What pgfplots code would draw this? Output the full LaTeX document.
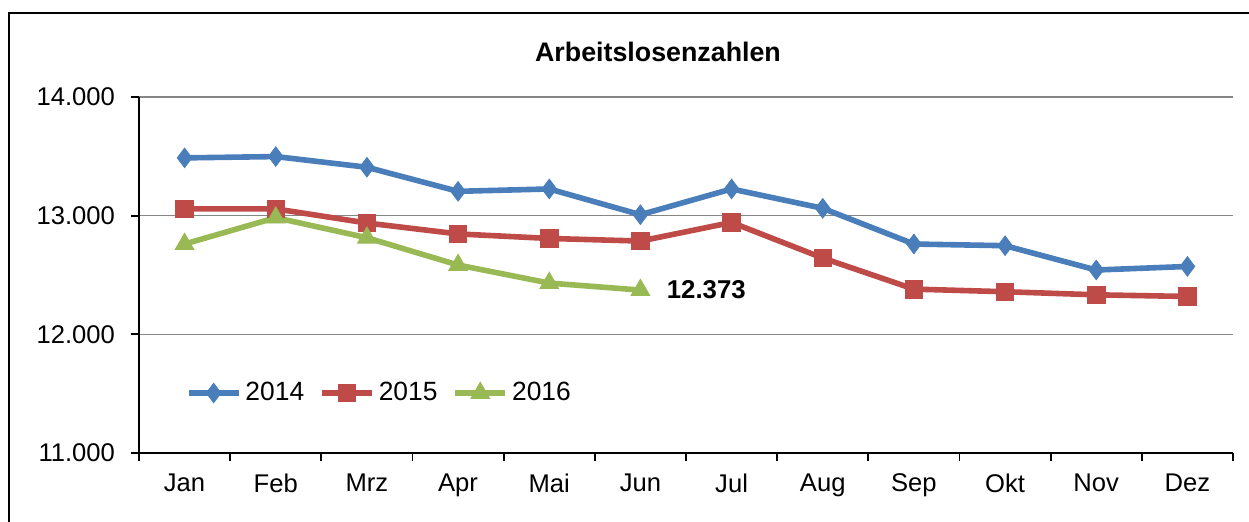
\documentclass[border=0pt]{standalone}
\usepackage{pgfplots}
\pgfplotsset{compat=1.18}
\usepackage{fontspec}
\setmainfont{Liberation Sans}
\definecolor{cA}{HTML}{4A7EBB}
\definecolor{cB}{HTML}{BE4B48}
\definecolor{cC}{HTML}{98B954}
\definecolor{gridgray}{HTML}{868686}
\begin{document}
\begin{tikzpicture}
\useasboundingbox (0,0) rectangle (624.5bp,261bp);
\draw[line width=1.3bp] (4.5bp,-2bp) -- (4.5bp,254.5bp) -- (627bp,254.5bp);
\node[font=\fontsize{13.4bp}{16bp}\selectfont\bfseries] at (329bp,235bp) {Arbeitslosenzahlen};
\begin{axis}[
  at={(69.5bp,34.5bp)}, anchor=south west,
  scale only axis, width=547bp, height=178bp,
  xmin=-0.5, xmax=11.5, ymin=11000, ymax=14000,
  scaled y ticks=false,
  axis x line*=bottom, axis y line*=left,
  axis line style={line width=0.9bp, -},
  tick align=outside,
  xtick={0,...,11},
  xticklabels={Jan,Feb,Mrz,Apr,Mai,Jun,Jul,Aug,Sep,Okt,Nov,Dez},
  major x tick style={draw=none},
  minor xtick={-0.5,0.5,...,11.5},
  minor tick length=4bp, major tick length=4bp,
  every tick/.style={black, line width=0.9bp},
  ytick={11000,12000,13000,14000},
  yticklabels={11.000,12.000,13.000,14.000},
  ymajorgrids, grid style={gridgray, line width=0.8bp},
  tick label style={font=\fontsize{12.8bp}{15bp}\selectfont},
  yticklabel style={xshift=-4.5bp},
  xticklabel style={yshift=-3bp},
  legend style={at={(0.0425,0.1685)}, anchor=west, draw=none, fill=none,
    inner sep=0pt, font=\fontsize{13.2bp}{15bp}\selectfont,
    /tikz/every even column/.append style={column sep=5.5bp}},
  legend columns=-1,
  legend cell align=left,
  legend image code/.code={\draw[mark repeat=2,mark phase=2] plot coordinates {(0bp,0bp) (12.5bp,0bp) (25bp,0bp)};},
  every axis plot/.append style={line width=2.8bp},
]
\addplot[cA, mark=diamond*, mark size=4.9bp, mark options={solid, fill=cA, line width=0.4bp}]
  coordinates {(0,13487) (1,13498) (2,13408) (3,13205) (4,13225) (5,13008) (6,13225) (7,13062) (8,12761) (9,12747) (10,12542) (11,12572)};
\addlegendentry{2014}
\addplot[cB, mark=square*, mark size=4.4bp, mark options={solid, fill=cB, line width=0.4bp}]
  coordinates {(0,13057) (1,13057) (2,12938) (3,12846) (4,12808) (5,12786) (6,12943) (7,12643) (8,12381) (9,12359) (10,12333) (11,12319)};
\addlegendentry{2015}
\addplot[cC, mark=triangle*, mark size=5.4bp, mark options={solid, fill=cC, line width=0.4bp}]
  coordinates {(0,12761) (1,12983) (2,12814) (3,12584) (4,12432) (5,12373)};
\addlegendentry{2016}
\node[anchor=west, inner sep=0pt, xshift=13bp, font=\fontsize{12.9bp}{15bp}\selectfont\bfseries] at (axis cs:5,12373) {12.373};
\end{axis}
\end{tikzpicture}
\end{document}
